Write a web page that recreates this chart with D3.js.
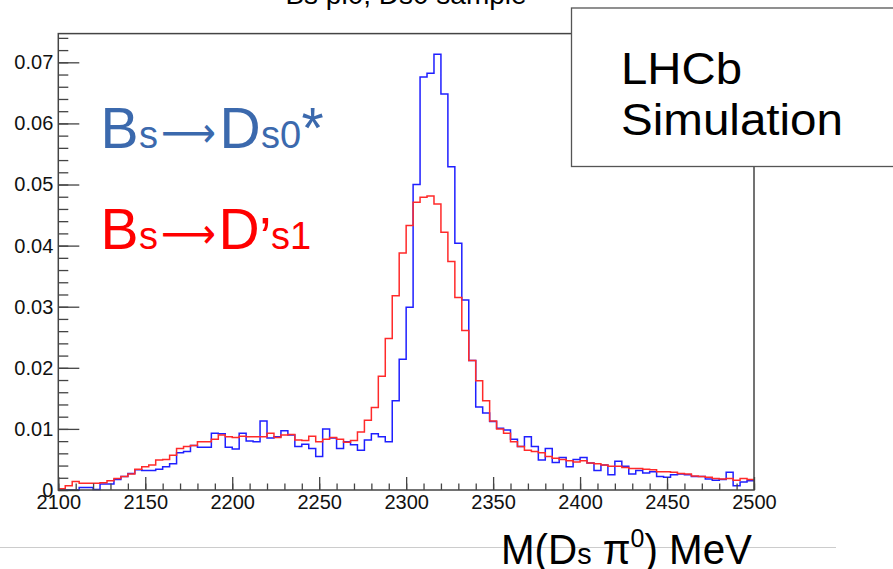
<!DOCTYPE html>
<html lang="en">
<head>
  <meta charset="UTF-8">
  <title>Bs pi0, Ds0 sample</title>
  <script src="https://d3js.org/d3.v7.min.js"></script>
  <style>
    body { margin: 0; background: #fff; }
    svg { display: block; font-family: "Liberation Sans", Arial, Helvetica, sans-serif; }
  </style>
</head>
<body>
  <svg id="chart" width="893" height="569"></svg>
  <script>
    // histogram binning (MeV)
    const massMin = 2100;
    const massMax = 2500;
    const binWidth = 4;

    // Bs -> Ds0* (blue), 100 bins of 4 MeV
    const ds0Values = [
      0, 0, 0, 0.0004, 0.0004, 0.0001, 0.0010, 0.0010, 0.0017, 0.0022,
      0.0027, 0.0033, 0.0032, 0.0032, 0.0034, 0.0038, 0.0043, 0.0061, 0.0063, 0.0073,
      0.0070, 0.0070, 0.0093, 0.0092, 0.0070, 0.0067, 0.0093, 0.0080, 0.0079, 0.0113,
      0.0085, 0.0087, 0.0097, 0.0090, 0.0071, 0.0075, 0.0068, 0.0055, 0.0100, 0.0085,
      0.0068, 0.0079, 0.0074, 0.0065, 0.0082, 0.0092, 0.0087, 0.0079, 0.0146, 0.0214,
      0.0299, 0.0500, 0.0676, 0.0682, 0.0713, 0.0648, 0.0529, 0.0404, 0.0311, 0.0212,
      0.0136, 0.0126, 0.0112, 0.0101, 0.0098, 0.0083, 0.0071, 0.0087, 0.0071, 0.0049,
      0.0068, 0.0045, 0.0053, 0.0038, 0.0050, 0.0053, 0.0044, 0.0032, 0.0041, 0.0025,
      0.0047, 0.0039, 0.0026, 0.0032, 0.0028, 0.0030, 0.0022, 0.0021, 0.0025, 0.0026,
      0.0025, 0.0022, 0.0022, 0.0018, 0.0016, 0.0017, 0.0029, 0.0007, 0.0013, 0.0015
    ];

    // Bs -> D's1 (red)
    const ds1Values = [
      0.0002, 0.0007, 0.0014, 0.0011, 0.0011, 0.0011, 0.0012, 0.0015, 0.0019, 0.0022,
      0.0026, 0.0034, 0.0038, 0.0041, 0.0049, 0.0050, 0.0057, 0.0068, 0.0071, 0.0073,
      0.0079, 0.0079, 0.0083, 0.0090, 0.0087, 0.0086, 0.0088, 0.0087, 0.0087, 0.0087,
      0.0093, 0.0086, 0.0090, 0.0091, 0.0082, 0.0081, 0.0088, 0.0079, 0.0083, 0.0086,
      0.0083, 0.0078, 0.0081, 0.0095, 0.0114, 0.0135, 0.0186, 0.0248, 0.0318, 0.0388,
      0.0433, 0.0471, 0.0479, 0.0481, 0.0468, 0.0422, 0.0374, 0.0315, 0.0261, 0.0212,
      0.0179, 0.0146, 0.0113, 0.0100, 0.0093, 0.0079, 0.0071, 0.0065, 0.0063, 0.0061,
      0.0055, 0.0052, 0.0050, 0.0048, 0.0046, 0.0048, 0.0044, 0.0043, 0.0041, 0.0039,
      0.0039, 0.0037, 0.0035, 0.0035, 0.0034, 0.0033, 0.0030, 0.0030, 0.0029, 0.0027,
      0.0026, 0.0023, 0.0022, 0.0021, 0.0019, 0.0018, 0.0019, 0.0016, 0.0019, 0.0017
    ];

    const xTicks = [2100, 2150, 2200, 2250, 2300, 2350, 2400, 2450, 2500];
    const yTicks = [0, 0.01, 0.02, 0.03, 0.04, 0.05, 0.06, 0.07];
    const yMax = 0.0747;

    const svg = d3.select("#chart");

    const x = d3.scaleLinear().domain([massMin, massMax]).range([58.3, 754]);
    const y = d3.scaleLinear().domain([0, yMax]).range([490, 33.6]);

    // title (mostly cut off at the top)
    svg.append("text")
      .attr("x", 406).attr("y", 4)
      .attr("text-anchor", "middle")
      .attr("font-size", 28)
      .text("Bs pi0, Ds0 sample");

    // grey separator line from the slide
    svg.append("line")
      .attr("x1", 0).attr("x2", 836)
      .attr("y1", 547.5).attr("y2", 547.5)
      .attr("stroke", "#cccccc").attr("stroke-width", 1);

    // histograms
    function histPoints(values) {
      const pts = values.map((v, i) => [massMin + i * binWidth, v]);
      pts.push([massMax, values[values.length - 1]]);
      return pts;
    }
    const line = d3.line()
      .x(d => x(d[0]))
      .y(d => y(d[1]))
      .curve(d3.curveStepAfter);

    svg.append("path")
      .attr("d", line(histPoints(ds0Values)))
      .attr("fill", "none")
      .attr("stroke", "#1f1fff")
      .attr("stroke-width", 1.5);

    svg.append("path")
      .attr("d", line(histPoints(ds1Values)))
      .attr("fill", "none")
      .attr("stroke", "#ff2a2a")
      .attr("stroke-width", 1.5);

    // frame
    svg.append("rect")
      .attr("x", x(massMin)).attr("y", y(yMax))
      .attr("width", x(massMax) - x(massMin))
      .attr("height", y(0) - y(yMax))
      .attr("fill", "none")
      .attr("stroke", "#444").attr("stroke-width", 1.5);

    // y axis: ticks point inward
    const yMinor = svg.append("g")
      .attr("transform", `translate(${x(massMin)},0)`)
      .call(d3.axisLeft(y)
        .tickValues(d3.range(0, yMax, 0.002))
        .tickSize(-10)
        .tickFormat(""));
    const yAxis = svg.append("g")
      .attr("transform", `translate(${x(massMin)},0)`)
      .call(d3.axisLeft(y)
        .tickValues(yTicks)
        .tickSizeInner(-21)
        .tickSizeOuter(0)
        .tickPadding(5)
        .tickFormat(d => d === 0 ? "0" : d.toFixed(2)));

    // x axis: ticks point upward
    const xMinor = svg.append("g")
      .attr("transform", `translate(0,${y(0)})`)
      .call(d3.axisBottom(x)
        .tickValues(d3.range(massMin, massMax + 1, 10))
        .tickSize(-6.5)
        .tickFormat(""));
    const xAxis = svg.append("g")
      .attr("transform", `translate(0,${y(0)})`)
      .call(d3.axisBottom(x)
        .tickValues(xTicks)
        .tickSizeInner(-13)
        .tickSizeOuter(0)
        .tickPadding(5)
        .tickFormat(d3.format("d")));

    [yMinor, yAxis, xMinor, xAxis].forEach(g => {
      g.select(".domain").remove();
      g.selectAll(".tick line").attr("stroke", "#444").attr("stroke-width", 1.3);
      g.selectAll("text")
        .attr("font-family", "Liberation Sans, Arial, sans-serif")
        .attr("font-size", 20)
        .attr("fill", "#111");
    });

    // LHCb box
    svg.append("rect")
      .attr("x", 571.5).attr("y", 8)
      .attr("width", 340).attr("height", 158.5)
      .attr("fill", "#fff")
      .attr("stroke", "#555").attr("stroke-width", 1.3);
    svg.append("text")
      .attr("x", 621).attr("y", 84)
      .attr("font-size", 44)
      .attr("textLength", 121).attr("lengthAdjust", "spacingAndGlyphs")
      .text("LHCb");
    svg.append("text")
      .attr("x", 621).attr("y", 135)
      .attr("font-size", 44)
      .attr("textLength", 222).attr("lengthAdjust", "spacingAndGlyphs")
      .text("Simulation");

    // legend labels: letters in one text, the long arrow as its own stretched text
    function decayLabel(yBase, color, parts) {
      const g = svg.append("g").attr("fill", color);
      const t = g.append("text").attr("y", yBase);
      parts.forEach(p => {
        if (p.arrow) {
          g.append("text")
            .attr("x", p.x).attr("y", yBase + (p.dy || 0))
            .attr("font-family", "DejaVu Sans, sans-serif")
            .attr("font-size", p.size)
            .attr("textLength", p.len).attr("lengthAdjust", "spacingAndGlyphs")
            .text(p.text);
          return;
        }
        t.append("tspan")
          .attr("x", p.x)
          .attr("y", yBase + (p.dy || 0))
          .attr("font-size", p.size)
          .text(p.text);
      });
    }
    decayLabel(148, "#3b69ad", [
      { text: "B", x: 100.5, size: 57 },
      { text: "s", x: 139, size: 38 },
      { text: "⟶", x: 161, size: 42, len: 55, arrow: true, dy: -1 },
      { text: "D", x: 219.5, size: 57 },
      { text: "s0", x: 261, size: 38 },
      { text: "*", x: 301.5, size: 57 }
    ]);
    decayLabel(248.5, "#ff0000", [
      { text: "B", x: 100.5, size: 57 },
      { text: "s", x: 139, size: 38 },
      { text: "⟶", x: 161, size: 42, len: 55, arrow: true, dy: -1 },
      { text: "D", x: 218.5, size: 57 },
      { text: "’", x: 259, size: 57, dy: 9 },
      { text: "s1", x: 271, size: 38 }
    ]);

    // x axis title
    const xt = svg.append("text")
      .attr("x", 501).attr("y", 564)
      .attr("font-size", 42)
      .attr("fill", "#000");
    xt.append("tspan").text("M(D");
    xt.append("tspan").attr("font-size", 30).text("s");
    xt.append("tspan").text(" π");
    xt.append("tspan").attr("font-size", 26).attr("dy", -17).text("0");
    xt.append("tspan").attr("dy", 17).text(") MeV");
    xt.attr("textLength", 251).attr("lengthAdjust", "spacingAndGlyphs");
  </script>
</body>
</html>
